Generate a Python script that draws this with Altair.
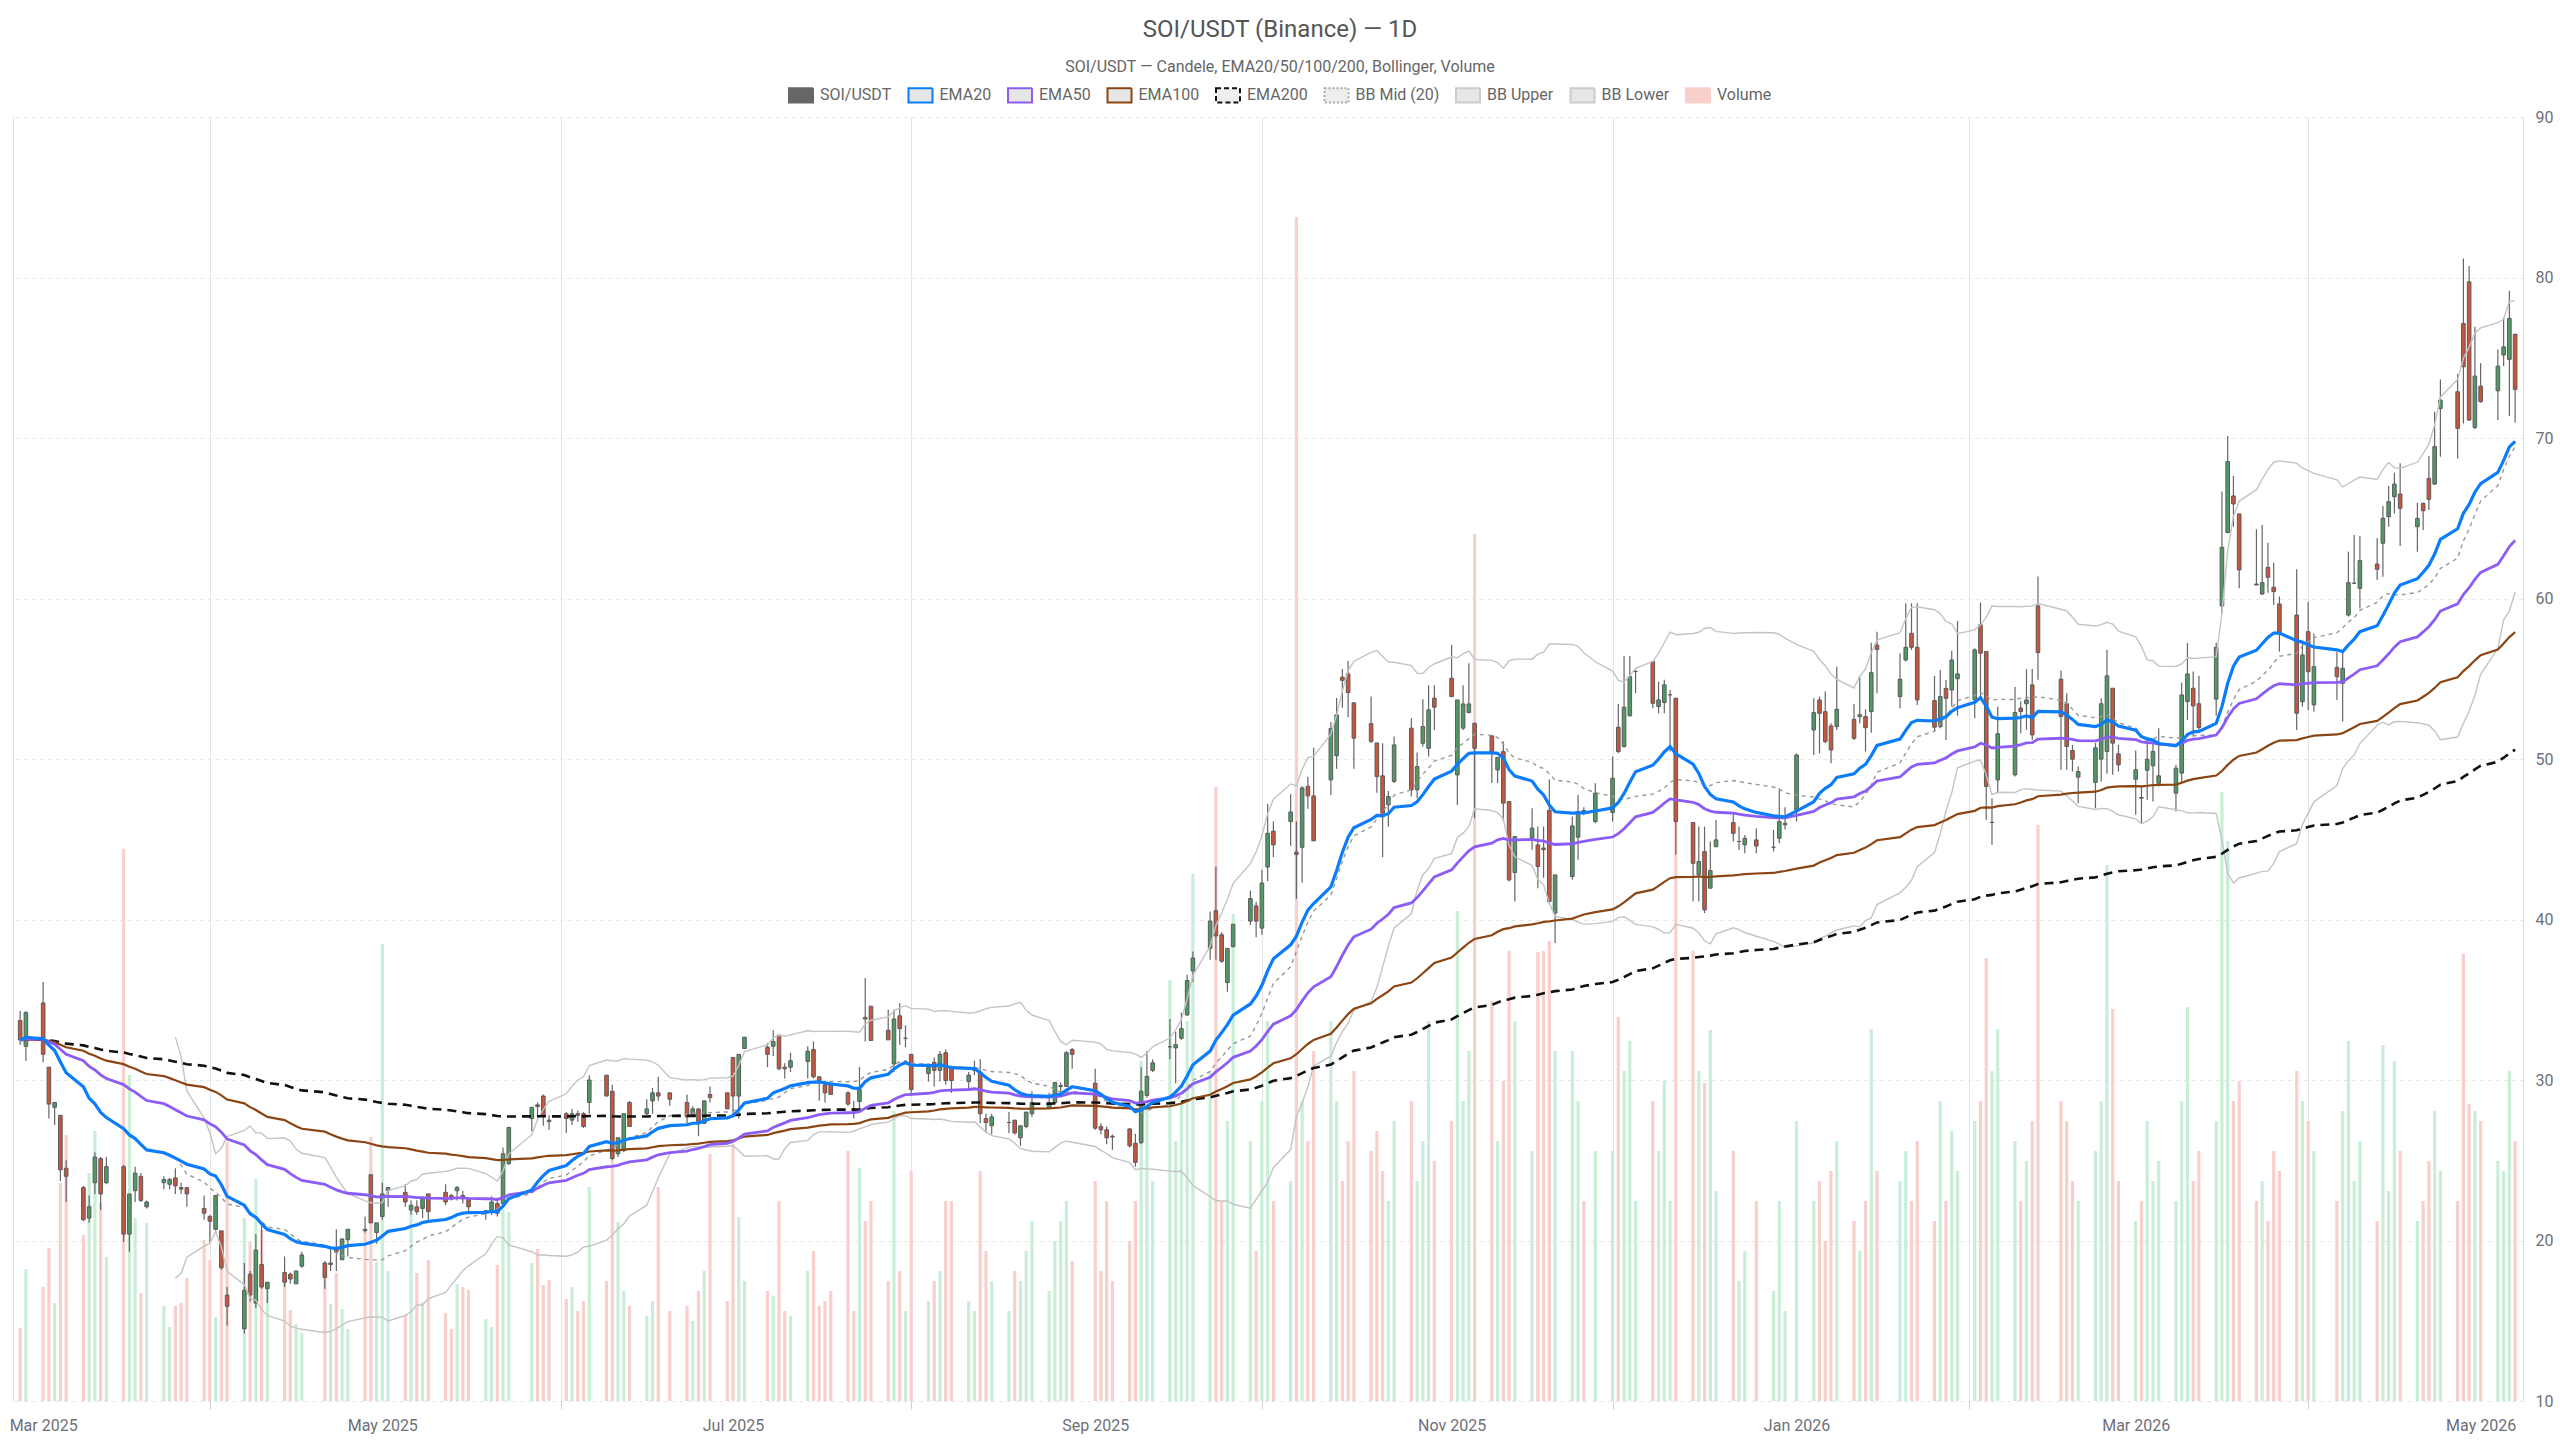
import altair as alt
import pandas as pd

# ---------------- data ----------------
HOLIDAYS = ["2025-04-18", "2025-05-26", "2025-06-19", "2025-07-04", "2025-09-01",
            "2025-11-27", "2025-12-25", "2026-01-01", "2026-01-19", "2026-02-16", "2026-04-03"]

OPEN = [33.7, 32.1,
        34.8, 30.8, 28.3, 27.8, 24.5, 23.3, 21.4, 23.6, 25.1, 23.6, 24.6, 20.4, 23.1, 24.0, 22.1,
        23.6, 23.5, 23.9, 23.3, 23.3, 22.0, 21.5, 20.7, 20.6, 16.6, 14.5, 17.9, 16.1, 18.5, 17.0,
        18.0, 17.9, 17.3, 18.4, 18.6, 18.5, 19.5, 18.8, 20.05, 20.7, 24.1, 20.5, 21.5, 23.1,
        23.0, 21.9, 22.1, 22.0, 22.9, 23.0, 22.8, 23.1, 22.8, 22.6, 21.8, 21.8, 22.3, 22.3, 24.8,
        27.6, 28.45, 29.0, 27.5, 27.9, 27.5, 27.9, 27.9, 28.6, 30.3, 29.3, 25.4, 25.6, 28.6,
        27.9, 28.7, 29.2, 29.2, 28.6, 27.8, 28.2, 27.3, 29.1, 29.2, 31.4, 29.0, 31.96,
        32.05, 32.1, 32.8, 30.8, 30.8, 31.15, 31.9, 30.2, 29.7, 29.8, 29.2, 28.2, 28.66, 33.9, 34.6,
        33.1, 31.0, 34.0, 32.6, 31.6, 30.4, 31.1, 30.6, 31.7, 30.7, 29.9, 30.6, 30.5, 27.6, 27.15,
        27.35, 27.5, 26.4, 27.1, 27.9, 28.25, 28.6, 29.6, 29.6, 31.9, 29.8, 27.1, 26.9, 26.5,
        26.95, 26.06, 26.1, 29.04, 30.6, 32.07, 32.0, 32.6, 34.05, 36.8, 38.2, 40.55, 39.05, 36.07, 38.3,
        39.9, 40.85, 39.46, 43.27, 45.5, 46.1, 44.2, 44.5, 48.3, 47.7, 48.7, 50.2, 55.1, 55.3, 53.5,
        52.2, 51.0, 48.95, 47.15, 48.6, 51.92, 48.08, 50.98, 50.67, 53.79, 55.03, 49.01, 51.92, 52.89, 52.23,
        51.44, 49.32, 50.46, 47.35, 42.93, 45.07, 44.65, 44.45, 46.8, 40.4, 42.68, 45.13, 46.79, 46.1,
        46.67, 51.98, 50.78, 52.69, 55.45, 56.07, 53.27, 53.52, 54.0, 53.79, 46.04, 42.78, 44.23, 41.95, 44.54,
        46.04, 44.86, 44.65, 44.96, 44.5, 45.06, 45.9, 46.83,
        51.81, 53.68, 52.95, 52.06, 52.02, 52.47, 52.64, 52.64, 52.95, 57.1, 53.89, 56.17, 57.83, 56.96,
        53.64, 52.02, 54.4, 54.3, 55.0, 53.69, 58.36, 56.7, 46.05, 48.7, 49.01, 53.17, 53.44, 54.62, 59.54,
        54.97, 53.44, 50.53, 48.87, 48.54, 49.99, 50.47, 54.41, 50.32, 48.74, 47.6, 49.3, 49.58, 48.49,
        47.87, 49.12, 53.58, 54.41, 53.44, 53.73, 59.54, 64.11, 66.39, 65.27, 60.9, 60.28, 61.94, 60.7, 59.66,
        58.97, 53.57, 57.93, 53.37, 55.71, 54.72, 58.97, 60.95, 60.63, 62.15, 63.44, 65.1, 66.34, 66.51,
        64.47, 65.93, 67.48, 67.13, 71.84, 72.88, 77.14, 79.73, 70.66, 73.23, 72.94, 75.17, 74.9, 76.47]

HIGH = [34.3, 34.3,
        36.1, 30.8, 28.6, 27.8, 25.0, 23.4, 22.8, 25.5, 25.2, 25.2, 24.7, 22.9, 24.6, 24.2, 22.5,
        24.0, 23.9, 24.5, 23.6, 23.3, 22.8, 21.6, 22.8, 20.6, 17.1, 18.6, 18.1, 20.4, 20.9, 17.4,
        19.0, 18.0, 18.1, 19.3, 18.7, 19.5, 20.7, 20.1, 20.7, 21.5, 24.1, 21.1, 23.6, 23.3,
        23.5, 22.5, 22.5, 22.75, 22.9, 23.5, 22.9, 23.4, 23.1, 22.6, 21.9, 22.75, 22.5, 25.8, 27.05,
        28.3, 28.6, 29.1, 27.8, 28.0, 28.2, 28.1, 28.0, 30.3, 30.3, 29.7, 26.4, 27.9, 28.7,
        28.8, 29.5, 30.2, 29.2, 29.1, 28.35, 28.2, 28.7, 29.6, 29.2, 31.4, 31.6, 32.67,
        32.3, 33.1, 32.8, 31.05, 31.7, 32.1, 32.4, 30.2, 29.9, 29.8, 29.3, 28.7, 30.8, 36.35, 34.6,
        34.4, 34.4, 34.8, 33.4, 31.6, 30.95, 31.4, 31.8, 31.9, 30.7, 30.5, 31.2, 31.3, 27.9, 27.9,
        28.0, 27.5, 27.15, 28.0, 29.3, 29.2, 29.85, 29.85, 31.8, 32.0, 30.7, 27.3, 27.1, 26.6,
        27.0, 26.65, 30.8, 31.8, 31.3, 33.8, 33.0, 34.2, 36.55, 38.0, 40.5, 43.3, 39.2, 38.2, 39.7,
        41.8, 41.1, 43.1, 47.2, 46.1, 47.8, 46.1, 48.3, 48.9, 50.7, 52.3, 53.8, 55.6, 56.1, 53.5,
        53.9, 51.0, 50.98, 48.0, 51.4, 52.54, 50.4, 53.72, 54.6, 54.6, 57.1, 53.68, 54.6, 55.97, 52.23,
        51.5, 50.1, 51.09, 47.35, 45.17, 46.93, 45.79, 45.8, 48.74, 42.78, 46.42, 47.77, 47.0, 48.49,
        50.15, 53.43, 56.42, 56.42, 55.55, 56.07, 54.82, 54.93, 54.3, 53.79, 46.04, 45.79, 45.79, 44.86, 46.2,
        46.62, 45.79, 45.27, 45.68, 45.58, 48.18, 47.0, 50.35,
        53.78, 53.89, 54.2, 52.23, 55.75, 53.43, 55.13, 53.1, 57.25, 57.93, 56.58, 59.7, 59.7, 59.7,
        55.17, 55.55, 54.92, 56.75, 58.6, 56.9, 59.75, 56.7, 47.56, 53.27, 54.48, 53.58, 55.6, 55.6, 61.37,
        55.51, 54.1, 50.88, 49.53, 51.0, 53.79, 56.8, 54.41, 50.88, 50.53, 48.33, 50.99, 51.03, 51.92,
        49.64, 54.76, 57.22, 55.45, 55.18, 57.25, 66.66, 70.13, 67.64, 65.27, 64.31, 64.58, 63.48, 62.23, 60.12,
        61.82, 57.31, 59.8, 57.82, 56.69, 56.69, 62.92, 63.95, 63.9, 63.75, 65.76, 67.01, 67.84, 68.42,
        65.97, 65.97, 68.88, 71.64, 73.65, 73.98, 81.19, 80.71, 76.93, 74.65, 75.52, 77.51, 79.17, 76.47]

LOW = [32.2, 31.2,
       31.1, 27.6, 27.2, 23.7, 22.4, 21.2, 21.1, 22.9, 21.9, 23.5, 19.9, 19.3, 22.4, 22.4, 22.0,
       23.2, 23.2, 22.9, 22.9, 22.1, 21.3, 19.9, 20.5, 18.2, 14.7, 14.2, 16.2, 15.8, 17.0, 16.1,
       17.1, 17.3, 17.3, 18.3, 17.0, 18.1, 18.1, 18.8, 19.0, 20.5, 21.1, 19.8, 21.3, 22.1,
       22.1, 21.6, 21.6, 21.4, 21.3, 22.2, 22.5, 22.5, 22.3, 21.7, 21.3, 21.6, 21.5, 22.1, 24.7,
       26.8, 27.7, 27.15, 26.9, 26.7, 27.2, 27.4, 27.0, 27.9, 29.0, 25.0, 25.2, 25.5, 27.1,
       27.8, 27.9, 28.7, 28.4, 27.3, 27.7, 26.5, 27.3, 28.6, 28.2, 27.7, 27.6, 31.96,
       30.8, 31.5, 30.6, 30.1, 30.5, 30.1, 30.1, 28.7, 28.6, 29.1, 28.4, 27.6, 28.0, 32.4, 32.46,
       32.5, 30.5, 32.2, 32.05, 29.0, 29.9, 29.6, 29.9, 29.7, 29.2, 29.4, 30.3, 27.3, 26.7, 26.6,
       26.7, 26.6, 25.9, 27.0, 27.7, 28.2, 28.5, 28.97, 29.6, 30.7, 26.9, 26.6, 26.0, 25.65,
       25.8, 24.6, 26.0, 28.9, 30.5, 31.3, 29.8, 32.5, 34.0, 36.1, 37.5, 37.5, 37.3, 35.5, 38.3,
       39.65, 38.9, 39.05, 42.4, 43.9, 44.6, 41.3, 42.3, 46.9, 44.9, 47.75, 49.4, 53.2, 52.6, 49.4,
       51.0, 47.9, 43.9, 45.8, 48.5, 47.66, 47.56, 50.78, 50.15, 51.81, 53.85, 47.14, 51.8, 52.85, 46.3,
       48.5, 48.5, 46.1, 42.37, 41.12, 44.34, 41.95, 42.6, 41.02, 38.53, 42.47, 43.72, 46.5, 46.0,
       46.1, 50.36, 50.7, 52.65, 54.1, 53.16, 52.85, 52.85, 50.46, 44.03, 41.12, 41.12, 40.4, 41.95, 44.5,
       44.86, 44.33, 44.13, 44.13, 44.23, 44.75, 45.6, 46.1,
       50.25, 50.35, 50.98, 49.73, 51.81, 51.19, 52.23, 50.46, 51.64, 54.09, 53.16, 56.07, 56.79, 53.37,
       51.71, 51.91, 51.19, 53.27, 52.7, 52.54, 53.69, 46.21, 44.66, 47.87, 48.91, 51.61, 51.82, 51.19, 54.93,
       49.33, 49.33, 49.22, 47.24, 46.94, 48.6, 49.08, 49.02, 49.22, 46.52, 46.0, 47.46, 47.35, 48.29,
       46.73, 48.54, 52.44, 51.4, 51.61, 52.69, 59.08, 64.07, 64.48, 60.64, 60.84, 60.22, 60.36, 59.6, 56.69,
       51.81, 53.26, 53.05, 52.95, 53.68, 52.33, 58.87, 60.95, 59.38, 61.15, 61.36, 64.47, 65.3, 63.27,
       62.92, 64.27, 65.51, 67.07, 68.83, 68.73, 70.91, 71.08, 70.54, 72.2, 71.12, 74.48, 71.37, 70.95]

CLOSE = [32.5, 34.2,
         31.6, 28.5, 28.6, 24.4, 24.0, 21.3, 22.1, 25.2, 22.9, 24.6, 20.4, 22.9, 24.2, 22.5, 22.4,
         23.8, 23.8, 23.4, 23.2, 22.9, 21.7, 21.2, 22.8, 18.3, 15.9, 16.9, 16.6, 19.4, 17.1, 17.4,
         17.4, 17.6, 18.1, 19.1, 17.7, 18.6, 19.3, 20.1, 20.7, 20.6, 21.1, 21.1, 22.9, 23.3,
         22.4, 22.2, 21.8, 22.6, 21.8, 22.4, 22.6, 23.3, 22.6, 22.1, 21.85, 22.4, 21.7, 25.4, 27.05,
         28.3, 28.35, 27.8, 27.4, 27.6, 27.9, 27.8, 27.1, 30.0, 29.0, 25.1, 26.4, 27.9, 27.1,
         28.2, 29.2, 29.0, 28.8, 27.7, 28.2, 27.4, 28.7, 28.9, 28.2, 29.0, 31.6, 32.67,
         31.6, 32.4, 30.7, 30.7, 31.2, 31.8, 30.2, 29.97, 29.2, 29.1, 28.5, 28.1, 29.4, 33.8, 32.46,
         32.5, 33.8, 33.2, 32.6, 29.4, 30.8, 30.6, 31.6, 29.97, 29.97, 30.3, 30.6, 27.9, 27.35, 27.7,
         27.35, 26.7, 27.15, 28.0, 28.6, 28.6, 29.85, 29.65, 31.7, 31.6, 27.0, 26.9, 26.4, 26.45,
         25.9, 24.87, 29.3, 30.23, 31.07, 32.07, 32.2, 33.2, 36.2, 37.6, 39.9, 38.98, 37.4, 38.2, 39.7,
         41.3, 39.9, 42.27, 45.37, 44.65, 46.7, 44.05, 48.2, 47.7, 44.9, 51.9, 52.75, 54.9, 54.14, 51.3,
         51.1, 48.9, 46.4, 47.66, 50.88, 48.08, 49.53, 52.02, 53.06, 53.23, 53.89, 53.68, 53.43, 53.43, 50.67,
         50.36, 50.1, 47.25, 42.47, 45.17, 45.69, 43.3, 44.35, 41.12, 42.78, 45.83, 46.73, 46.66, 47.87,
         48.8, 50.46, 53.23, 55.14, 55.45, 53.47, 53.68, 54.62, 54.0, 46.1, 43.5, 43.61, 40.6, 43.05, 44.96,
         45.37, 44.86, 45.06, 44.58, 44.5, 46.1, 46.0, 50.25,
         52.89, 52.85, 51.08, 50.56, 53.1, 51.29, 52.76, 51.95, 55.38, 56.83, 54.97, 56.96, 56.96, 53.68,
         51.98, 53.89, 53.78, 56.17, 55.3, 56.8, 56.59, 48.29, 46.05, 51.57, 52.9, 52.96, 53.68, 51.5, 56.63,
         52.65, 50.78, 49.99, 49.22, 50.7, 53.44, 55.18, 50.99, 49.64, 49.33, 47.56, 49.99, 50.47, 48.95,
         49.43, 53.99, 55.3, 53.31, 51.96, 56.96, 63.19, 68.53, 65.89, 61.78, 60.84, 60.99, 61.32, 60.43, 57.83,
         52.85, 56.48, 55.44, 55.75, 55.13, 55.65, 60.99, 60.95, 62.36, 61.82, 65.0, 66.03, 67.13, 65.62,
         64.99, 65.47, 66.18, 69.46, 72.36, 70.6, 74.44, 71.12, 73.86, 72.26, 74.48, 75.68, 77.45, 73.03]

# volume in thousands
VOLUME = [73, 132,
          114, 153, 98, 218, 266, 166, 228, 270, 198, 144, 552, 326, 183, 108, 178,
          95, 74, 95, 98, 123, 161, 141, 84, 150, 259, 183, 159, 222, 171, 119,
          118, 91, 77, 68, 139, 97, 128, 92, 72, 169, 264, 139, 457, 130,
          86, 195, 128, 99, 141, 88, 72, 117, 114, 111, 82, 74, 136, 191, 189,
          138, 152, 116, 121, 102, 114, 90, 100, 214, 120, 241, 179, 110, 95,
          85, 100, 214, 90, 95, 80, 110, 130, 247, 100, 257, 184, 120,
          110, 105, 200, 90, 85, 130, 150, 95, 100, 110, 250, 90, 233, 180, 200,
          120, 290, 130, 90, 230, 100, 120, 130, 200, 200, 100, 90, 230, 150, 120,
          90, 130, 120, 150, 180, 110, 160, 180, 200, 140, 220, 130, 200, 120,
          160, 200, 340, 300, 220, 421, 260, 300, 380, 527, 330, 614, 200, 280, 487,
          260, 150, 300, 380, 200, 220, 1184, 300, 260, 350, 380, 300, 220, 260, 330,
          250, 270, 230, 200, 280, 300, 220, 260, 380, 240, 280, 490, 300, 350, 867,
          400, 260, 320, 450, 380, 250, 449, 450, 460, 350, 350, 300, 200, 250,
          250, 384, 330, 360, 200, 300, 250, 320, 200, 617, 450, 330, 318, 371, 210,
          250, 120, 150, 200, 110, 200, 90, 280,
          200, 220, 160, 230, 260, 180, 150, 200, 372, 230, 220, 250, 200, 260,
          180, 300, 200, 270, 230, 280, 300, 443, 330, 372, 260, 200, 240, 280, 576,
          300, 280, 220, 200, 250, 300, 536, 392, 220, 180, 200, 280, 220, 240,
          200, 300, 394, 220, 250, 280, 609, 560, 300, 320, 200, 220, 180, 250, 230,
          330, 300, 280, 250, 200, 290, 360, 220, 260, 180, 356, 210, 340, 250,
          180, 200, 240, 290, 230, 200, 447, 297, 290, 280, 240, 230, 330, 260]

LEG_NAMES = ["SOI/USDT", "EMA20", "EMA50", "EMA100", "EMA200", "BB Mid (20)", "BB Upper", "BB Lower", "Volume"]
LABEL_MONTHS = [(2025, 3), (2025, 5), (2025, 7), (2025, 9), (2025, 11), (2026, 1), (2026, 3), (2026, 5)]
GRID_MONTHS = [(2025, 4), (2025, 6), (2025, 8), (2025, 10), (2025, 12), (2026, 2), (2026, 4)]

# ---------------- styles ----------------
C_UP, C_DOWN, C_EDGE = "#4f9a64", "#c9553d", "#5a5a5a"
V_UP, V_DOWN = "#c9eed7", "#f9cfcb"
C_EMA20, C_EMA50, C_EMA100, C_EMA200 = "#0b7dfa", "#8b5cf6", "#8b4513", "#111111"
C_BBMID, C_BB = "#999999", "#c4c4c4"
LEG_FILL = ["#666666", "#e6e6e6", "#e6e6e6", "#e6e6e6", "#eeeeee", "#eeeeee", "#e6e6e6", "#e6e6e6", "#f9cfcb"]
LEG_STROKE = ["#666666", C_EMA20, C_EMA50, C_EMA100, C_EMA200, "#aaaaaa", "#cccccc", "#cccccc", "#f9cfcb"]
LEG_DASH = [[1, 0], [1, 0], [1, 0], [1, 0], [5, 3], [2, 2], [1, 0], [1, 0], [1, 0]]
FONT = "Roboto"
TXT = "#6e7079"
RECT = "M-1,-0.6H1V0.6H-1Z"

# ---------------- table ----------------
days = [d.strftime("%Y-%m-%d") for d in pd.bdate_range("2025-02-27", "2026-05-07")
        if d.strftime("%Y-%m-%d") not in HOLIDAYS]
assert len(days) == len(OPEN) == len(HIGH) == len(LOW) == len(CLOSE) == len(VOLUME), (
    len(days), len(OPEN), len(HIGH), len(LOW), len(CLOSE), len(VOLUME))

df = pd.DataFrame({"date": days, "open": OPEN, "high": HIGH, "low": LOW,
                   "close": CLOSE, "volume": VOLUME})
df["high"] = df[["high", "open", "close"]].max(axis=1)
df["low"] = df[["low", "open", "close"]].min(axis=1)
cl = df["close"]
for n in (20, 50, 100, 200):
    df[f"ema{n}"] = cl.ewm(span=n, adjust=False).mean()
mid = cl.rolling(20).mean()
sd = cl.rolling(20).std(ddof=0)
df["bb_mid"] = mid
df["bb_up"] = mid + 2 * sd
df["bb_lo"] = mid - 2 * sd

# ---------------- axes / scales ----------------
# labels sit on the first trading day of every other month, grid lines on the 1st of the months between
label_days = [next(s for s in days if s.startswith(f"{y}-{m:02d}")) for y, m in LABEL_MONTHS]
label_vals = [alt.DateTime(year=int(s[:4]), month=int(s[5:7]), date=int(s[8:]), utc=True) for s in label_days]
grid_vals = [alt.DateTime(year=y, month=m, date=1, utc=True) for y, m in GRID_MONTHS]
odd = "utcmonth(datum.value) % 2 == 1"

X_SCALE = alt.Scale(type="utc", domain=[
    alt.DateTime(year=2025, month=2, date=26, hours=15, utc=True),
    alt.DateTime(year=2026, month=5, date=7, hours=12, utc=True)])
X_AXIS = alt.Axis(
    values=label_vals + grid_vals, title=None, domain=False,
    labelExpr="utcmonth(datum.value) % 2 == 0 ? utcFormat(datum.value, '%b %Y') : ''",
    grid=True, gridColor="#e4e4e4", gridWidth=1,
    gridOpacity={"condition": {"test": odd, "value": 1}, "value": 0},
    ticks=True, tickColor="#cfcfcf", tickSize=8,
    tickOpacity={"condition": {"test": odd, "value": 1}, "value": 0},
    labelFont=FONT, labelFontSize=16, labelColor=TXT, labelPadding=8,
    labelOverlap=False, labelFlush=False, labelBound=False)
Y_AXIS = alt.Axis(orient="right", values=list(range(10, 91, 10)), title=None,
                  grid=True, gridColor="#e6e6e6", gridDash=[4, 4], ticks=False,
                  domain=True, domainColor="#dddddd", labelFont=FONT, labelFontSize=16,
                  labelColor=TXT, labelPadding=12, labelFlush=False)
Y_SCALE = alt.Scale(domain=[10, 90], nice=False, zero=False)
V_AXIS = alt.Axis(orient="left", labels=False, ticks=False, grid=False, title=None,
                  domain=True, domainColor="#dddddd")


def X():
    return alt.X("date:T", scale=X_SCALE, axis=X_AXIS, title=None)


def Y(field):
    return alt.Y(f"{field}:Q", scale=Y_SCALE, axis=Y_AXIS, title=None)


base = alt.Chart(df)
up = alt.datum.close >= alt.datum.open

volume = base.mark_bar(width=3.2).encode(
    x=X(),
    y=alt.Y("volume:Q", scale=alt.Scale(domain=[0, 1284], nice=False), axis=V_AXIS, title=None),
    color=alt.condition(up, alt.value(V_UP), alt.value(V_DOWN)),
)

wicks = base.mark_rule(color="#666666", strokeWidth=1.2).encode(
    x=X(), y=Y("low"), y2="high")
bodies = base.mark_bar(width=3.6, stroke=C_EDGE, strokeWidth=1).encode(
    x=X(), y=Y("open"), y2="close",
    fill=alt.condition(up, alt.value(C_UP), alt.value(C_DOWN)))


def line(field, color, width, dash=None):
    kw = dict(color=color, strokeWidth=width)
    if dash:
        kw["strokeDash"] = dash
    return base.mark_line(**kw).encode(x=X(), y=Y(field))


bb_up = line("bb_up", C_BB, 1.4)
bb_lo = line("bb_lo", C_BB, 1.4)
bb_mid = line("bb_mid", C_BBMID, 1.4, [4, 4])
ema200 = line("ema200", C_EMA200, 2.6, [9, 6])
ema100 = line("ema100", C_EMA100, 2.2)
ema50 = line("ema50", C_EMA50, 2.8)
ema20 = line("ema20", C_EMA20, 3.2)

legend_obj = alt.Legend(
    title=None, orient="none", legendX=775, legendY=-35, direction="horizontal",
    columns=len(LEG_NAMES), symbolType=RECT, symbolSize=576, symbolStrokeWidth=2,
    symbolOpacity=1, labelFont=FONT, labelFontSize=16, labelColor="#666666",
    labelOffset=6, columnPadding=12.5, padding=0)
legend_layer = alt.Chart(pd.DataFrame({"series": LEG_NAMES})).transform_filter("false").mark_point(
    shape=RECT, filled=True, size=576, opacity=1, strokeWidth=2).encode(
    fill=alt.Fill("series:N", scale=alt.Scale(domain=LEG_NAMES, range=LEG_FILL), legend=legend_obj),
    stroke=alt.Stroke("series:N", scale=alt.Scale(domain=LEG_NAMES, range=LEG_STROKE), legend=legend_obj),
    strokeDash=alt.StrokeDash("series:N", scale=alt.Scale(domain=LEG_NAMES, range=LEG_DASH), legend=legend_obj),
)

price = alt.layer(wicks, bodies, bb_up, bb_lo, bb_mid, ema200, ema100, ema50, ema20, legend_layer)

chart = alt.layer(volume, price).resolve_scale(y="independent").properties(
    width=2510, height=1284,
    autosize=alt.AutoSizeParams(type="none"),
    padding={"left": 13, "top": 117, "right": 37, "bottom": 39},
    background="white",
    title=alt.TitleParams(
        text="SOI/USDT (Binance) — 1D",
        subtitle="SOI/USDT — Candele, EMA20/50/100/200, Bollinger, Volume",
        anchor="middle", dx=12, offset=7, font=FONT, fontSize=24, fontWeight="normal",
        color="#555555", subtitleFont=FONT, subtitleFontSize=16, subtitleColor="#666666",
        subtitlePadding=17),
).configure_view(stroke=None)

chart.save("out.html", embed_options={"renderer": "svg", "actions": False})
